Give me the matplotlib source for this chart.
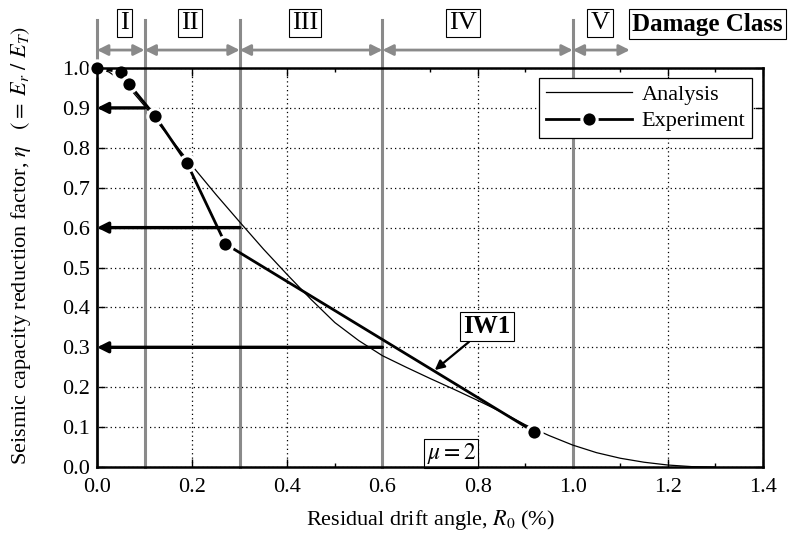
import numpy as np
import matplotlib.pyplot as plt
from matplotlib.ticker import MultipleLocator, FormatStrFormatter

plt.rcParams['font.family'] = 'serif'
plt.rcParams['font.serif'] = ['Liberation Serif', 'DejaVu Serif']
plt.rcParams['mathtext.fontset'] = 'stix'
plt.rcParams['font.size'] = 15

# analysis curve (mu = 2)
ana_x = [0.0, 0.025, 0.05, 0.075, 0.1, 0.15, 0.2, 0.25, 0.3, 0.35, 0.4, 0.45, 0.5, 0.55,
         0.6, 0.65, 0.7, 0.75, 0.8, 0.85, 0.9, 0.95, 1.0, 1.05, 1.1, 1.15, 1.2, 1.25, 1.3]
ana_y = [1.0, 0.99, 0.97, 0.94, 0.905, 0.83, 0.755, 0.683, 0.614, 0.546, 0.482, 0.42, 0.362, 0.317,
         0.279, 0.25, 0.222, 0.195, 0.167, 0.138, 0.106, 0.079, 0.055, 0.036, 0.022, 0.012, 0.005, 0.001, 0.0]

# experiment IW1
exp_x = [0.0, 0.05, 0.067, 0.122, 0.189, 0.27, 0.919]
exp_y = [1.0, 0.99, 0.96, 0.88, 0.762, 0.559, 0.088]

# damage class boundaries
bounds = [0.0, 0.1, 0.3, 0.6, 1.0, 1.12]
classes = ['I', 'II', 'III', 'IV', 'V']
class_x = [0.057, 0.195, 0.437, 0.77, 1.057]

# eta levels with arrows back to the axis
arrow_y = [0.9, 0.6, 0.3]
arrow_from = [0.1, 0.3, 0.6]

fig = plt.figure(figsize=(7.88, 5.44), dpi=100)
ax = fig.add_axes([0.1231, 0.1415, 0.8452, 0.7335])

ax.set_xlim(0, 1.4)
ax.set_ylim(0, 1.0)

ax.grid(True, which='major', color='black', linestyle=(0, (1, 2.5)), linewidth=0.9)

# vertical class lines
for b in bounds[:-1]:
    ax.plot([b, b], [0, 1.12], color='#8a8a8a', lw=2.2, clip_on=False, zorder=3)

# class arrows and labels
for i in range(len(classes)):
    ax.annotate('', xy=(bounds[i + 1], 1.045), xytext=(bounds[i], 1.045),
                xycoords='data', annotation_clip=False,
                arrowprops=dict(arrowstyle='<|-|>', color='#8a8a8a', lw=2,
                                mutation_scale=16, shrinkA=0, shrinkB=0))
    ax.text(class_x[i], 1.112, classes[i], ha='center', va='center', fontsize=19,
            bbox=dict(boxstyle='square,pad=0.12', fc='white', ec='black', lw=0.8),
            clip_on=False, zorder=5)
ax.text(0.9935, 0.955, 'Damage Class', transform=fig.transFigure, ha='right', va='center',
        fontsize=18, fontweight='bold',
        bbox=dict(boxstyle='square,pad=0.14', fc='white', ec='black', lw=0.8))

# horizontal arrows
for yv, xv in zip(arrow_y, arrow_from):
    ax.annotate('', xy=(0.0, yv), xytext=(xv, yv),
                arrowprops=dict(arrowstyle='-|>', color='black', lw=2.4,
                                mutation_scale=16, shrinkA=0, shrinkB=0), zorder=4)

ax.plot(ana_x, ana_y, color='black', lw=0.9, label='Analysis', zorder=5)
ax.plot(exp_x, exp_y, color='black', lw=2.0, marker='o', markersize=11,
        markerfacecolor='black', markeredgecolor='white', markeredgewidth=2.2,
        label='Experiment', zorder=6, clip_on=False)

ax.annotate('IW1', xy=(0.71, 0.243), xytext=(0.82, 0.351), ha='center', va='center',
            fontsize=18, fontweight='bold',
            bbox=dict(boxstyle='square,pad=0.12', fc='white', ec='black', lw=0.8),
            arrowprops=dict(arrowstyle='-|>', color='black', lw=1.6, mutation_scale=14,
                            shrinkA=0, shrinkB=0), zorder=7)
ax.text(0.745, 0.034, r'$\mu = 2$', ha='center', va='center', fontsize=17,
        bbox=dict(boxstyle='square,pad=0.1', fc='white', ec='black', lw=0.8), zorder=7)

ax.xaxis.set_major_locator(MultipleLocator(0.2))
ax.xaxis.set_minor_locator(MultipleLocator(0.1))
ax.yaxis.set_major_locator(MultipleLocator(0.1))
ax.xaxis.set_major_formatter(FormatStrFormatter('%.1f'))
ax.yaxis.set_major_formatter(FormatStrFormatter('%.1f'))
ax.tick_params(which='both', direction='in', top=True, right=True, labelsize=16)
ax.tick_params(axis='x', pad=8)
ax.tick_params(axis='y', pad=5)
ax.tick_params(which='major', length=6, width=1)
ax.tick_params(which='minor', length=3, width=1)
for s in ax.spines.values():
    s.set_linewidth(1.8)
    s.set_zorder(8)

ax.set_xlabel(r'Residual drift angle, $R_0$ (%)', fontsize=16, labelpad=8)
ax.set_ylabel(r'Seismic capacity reduction factor, $\eta$   $(=\ E_r\ /\ E_T)$', fontsize=16)
ax.yaxis.set_label_coords(-0.096, 0.554)

leg = ax.legend(loc='upper right', bbox_to_anchor=(0.983, 0.975), fontsize=16,
                fancybox=False, edgecolor='black', framealpha=1, handlelength=3.9,
                borderpad=0.3, labelspacing=0.25, handletextpad=0.4, borderaxespad=0)
leg.get_frame().set_linewidth(0.9)
leg.set_zorder(9)

fig.savefig('out.png', dpi=100)
